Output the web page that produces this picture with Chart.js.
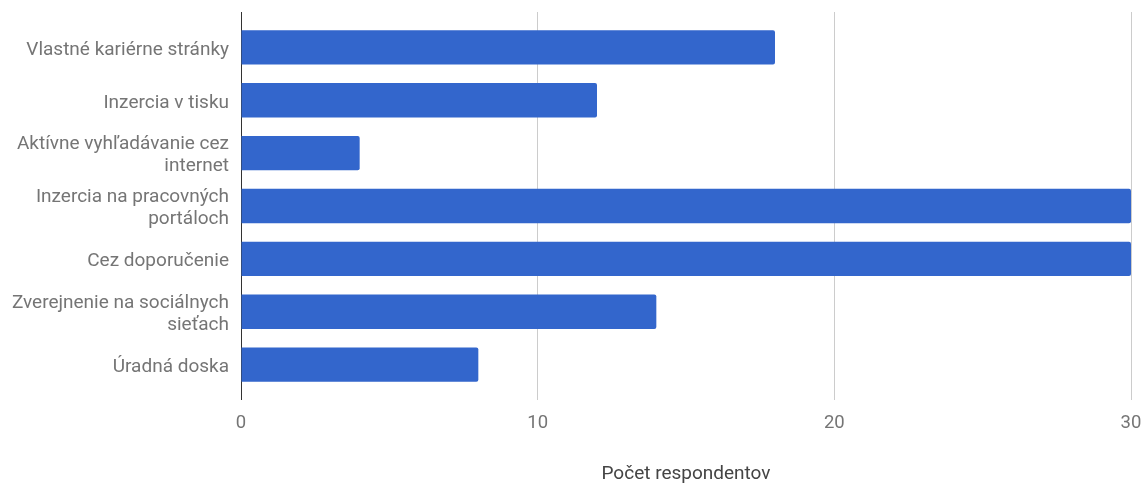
<!DOCTYPE html>
<html>
<head>
<meta charset="utf-8">
<title>Počet respondentov</title>
<script src="https://cdn.jsdelivr.net/npm/chart.js@4.4.1/dist/chart.umd.min.js"></script>
<style>
    body { margin: 0; background: #fff; }
    canvas { display: block; }
</style>
</head>
<body>
<canvas id="chart" width="1142" height="483"></canvas>
<script>
// Recruitment channels (multi-line labels are arrays)
const categories = [
    'Vlastné kariérne stránky',
    'Inzercia v tisku',
    ['Aktívne vyhľadávanie cez', 'internet'],
    ['Inzercia na pracovných', 'portáloch'],
    'Cez doporučenie',
    ['Zverejnenie na sociálnych', 'sieťach'],
    'Úradná doska'
];
const respondents = [18, 12, 4, 30, 30, 14, 8];
const axisMin = 0;
const axisMax = 30;
const axisStep = 10;
const axisTitle = 'Počet respondentov';

const labelColor = '#757575';
const gridColor = function(ctx) {
    return ctx.tick && ctx.tick.value === 0 ? '#333333' : '#cccccc';
};

// keep the plot edges fixed, ignoring tick label overflow
function fixHeight(h) {
    return function(scale) {
        scale.height = h;
        scale.paddingLeft = 0;
        scale.paddingRight = 0;
    };
}

document.addEventListener('DOMContentLoaded', function() {
    const ctx = document.getElementById('chart').getContext('2d');

    new Chart(ctx, {
        type: 'bar',
        data: {
            labels: categories,
            datasets: [
                {
                    data: respondents,
                    backgroundColor: '#3366cc',
                    borderWidth: 0,
                    borderRadius: 2,
                    barPercentage: 1,
                    categoryPercentage: 0.65,
                    xAxisID: 'x'
                }
            ]
        },
        options: {
            indexAxis: 'y',
            responsive: false,
            animation: false,
            layout: {
                padding: { left: 0, right: 11, top: 0, bottom: 0 }
            },
            plugins: {
                legend: { display: false },
                tooltip: { enabled: false }
            },
            scales: {
                x: {
                    position: 'bottom',
                    min: axisMin,
                    max: axisMax,
                    ticks: {
                        stepSize: axisStep,
                        color: labelColor,
                        padding: 12,
                        font: { family: 'Roboto', size: 18.5, lineHeight: 1.2 }
                    },
                    grid: {
                        color: gridColor,
                        tickColor: gridColor,
                        tickLength: 9,
                        lineWidth: 1
                    },
                    border: { display: false },
                    title: {
                        display: true,
                        text: axisTitle,
                        color: '#444444',
                        padding: { top: 0, bottom: -3 },
                        font: { family: 'Roboto', size: 19, lineHeight: 1.2 }
                    },
                    afterFit: fixHeight(92)
                },
                // thin strip above the plot so the grid lines reach a bit higher
                xTop: {
                    position: 'top',
                    min: axisMin,
                    max: axisMax,
                    ticks: { stepSize: axisStep, display: false },
                    grid: {
                        drawOnChartArea: false,
                        tickColor: gridColor,
                        tickLength: 9
                    },
                    border: { display: false },
                    afterFit: fixHeight(21)
                },
                y: {
                    ticks: {
                        color: labelColor,
                        padding: 12,
                        labelOffset: 2.5,
                        font: { family: 'Roboto', size: 19, lineHeight: 1.15 }
                    },
                    grid: { display: false, drawTicks: false },
                    border: { display: true, color: '#333333', width: 1 },
                    afterFit: function(scale) {
                        scale.width = 241;
                        scale.paddingTop = 0;
                        scale.paddingBottom = 0;
                    }
                }
            }
        }
    });
});
</script>
</body>
</html>
